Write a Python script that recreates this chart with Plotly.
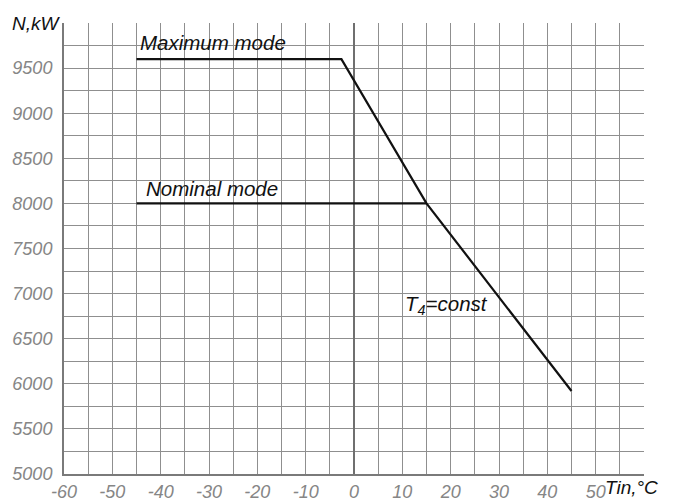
import plotly.graph_objects as go

# Data
max_mode_x = [-45, -2.6, 15, 45]
max_mode_y = [9600, 9600, 8000, 5920]
nominal_x = [-45, 15]
nominal_y = [8000, 8000]

x_ticks = [-60, -50, -40, -30, -20, -10, 0, 10, 20, 30, 40, 50]
y_ticks = [5000, 5500, 6000, 6500, 7000, 7500, 8000, 8500, 9000, 9500]
x_minor = [-55, -45, -35, -25, -15, -5, 5, 15, 25, 35, 45, 55, 60]
y_minor = [5250, 5750, 6250, 6750, 7250, 7750, 8250, 8750, 9250, 9750, 10000]

FONT = "Liberation Sans, Arial, sans-serif"
GRID = "#8f8f8f"
AXIS = "#7a7a7a"

fig = go.Figure()
fig.add_trace(go.Scatter(x=max_mode_x, y=max_mode_y, mode="lines",
                         line=dict(color="#111111", width=2.2), showlegend=False, hoverinfo="skip"))
fig.add_trace(go.Scatter(x=nominal_x, y=nominal_y, mode="lines",
                         line=dict(color="#111111", width=2.2), showlegend=False, hoverinfo="skip"))

tickfont = dict(family=FONT, size=18, color="#868686")

fig.update_xaxes(range=[-60, 60], tickmode="array", tickvals=x_ticks,
                 ticktext=[f"<i>{v}</i>" for v in x_ticks],
                 showgrid=True, gridcolor=GRID, gridwidth=1,
                 minor=dict(tickmode="array", tickvals=x_minor, showgrid=True, gridcolor=GRID, gridwidth=1),
                 zeroline=True, zerolinecolor="#6f6f6f", zerolinewidth=1.5,
                 showline=True, linecolor=AXIS, linewidth=2, automargin=False,
                 ticks="", tickfont=tickfont, fixedrange=True)
fig.update_yaxes(range=[5000, 10000], tickmode="array", tickvals=y_ticks,
                 ticktext=[f"<i>{v}</i>" for v in y_ticks],
                 showgrid=True, gridcolor=GRID, gridwidth=1,
                 minor=dict(tickmode="array", tickvals=y_minor, showgrid=True, gridcolor=GRID, gridwidth=1),
                 zeroline=False, automargin=False,
                 showline=True, linecolor=AXIS, linewidth=2,
                 ticks="", ticklabelstandoff=6, tickfont=tickfont, fixedrange=True)

labfont = dict(family=FONT, size=19, color="#111111")
inplot = dict(family=FONT, size=20.5, color="#111111")
fig.add_annotation(x=-45, y=9782, xref="x", yref="y", text="<i>Maximum mode</i>",
                   showarrow=False, xanchor="left", yanchor="middle", font=inplot, xshift=1)
fig.add_annotation(x=-43.5, y=8160, xref="x", yref="y", text="<i>Nominal mode</i>",
                   showarrow=False, xanchor="left", yanchor="middle", font=inplot)
fig.add_annotation(x=19.1, y=6877, xref="x", yref="y",
                   text="<i>T<sub>4</sub>=const</i>",
                   showarrow=False, xanchor="center", yanchor="middle", font=inplot)
fig.add_annotation(x=0, y=1, xref="paper", yref="paper", text="<i>N,kW</i>",
                   showarrow=False, xanchor="right", yanchor="middle", font=labfont, xshift=-1)
fig.add_annotation(x=1, y=0, xref="paper", yref="paper", text="<i>Tin,°C</i>",
                   showarrow=False, xanchor="center", yanchor="top", font=labfont, xshift=-13, yshift=-1)

# page body has an 8px default margin; compensate so the plot area lands where the reference has it
fig.update_layout(width=665, height=493,
                  margin=dict(l=56, r=29, t=15, b=27, autoexpand=False),
                  paper_bgcolor="white", plot_bgcolor="white",
                  font=dict(family=FONT))

fig.write_html("out.html")
